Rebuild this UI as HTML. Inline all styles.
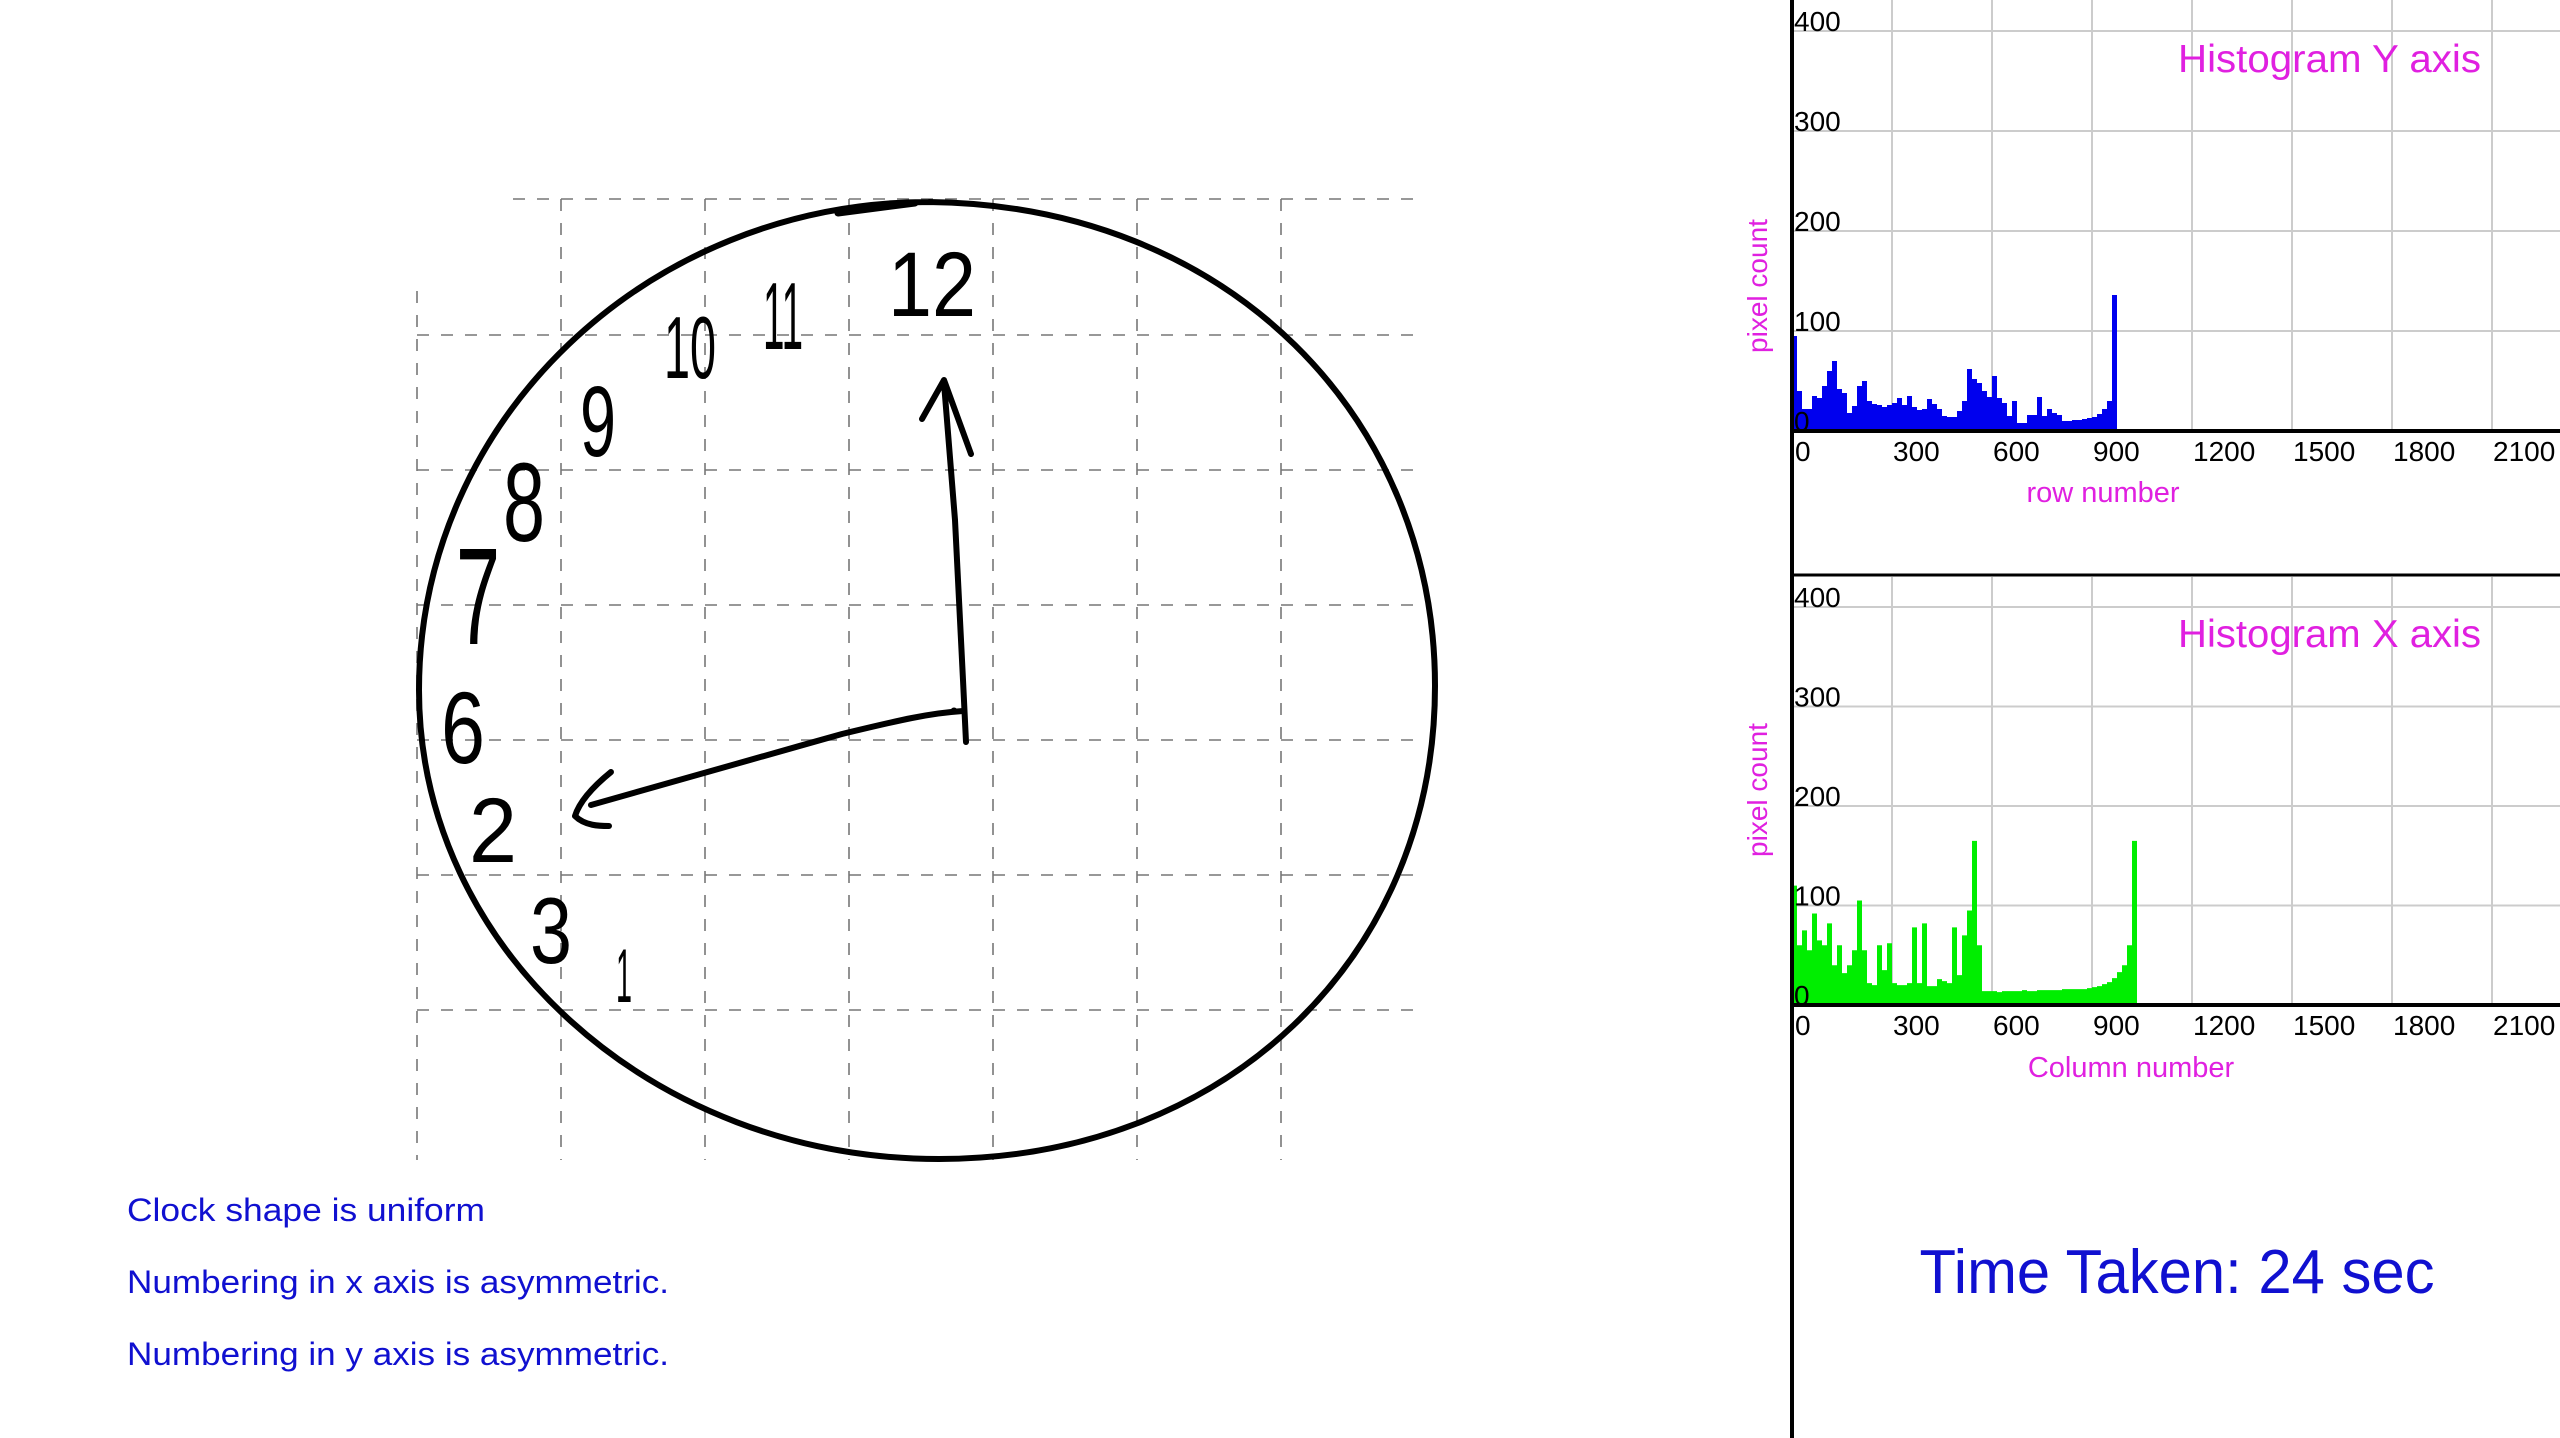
<!DOCTYPE html>
<html><head><meta charset="utf-8"><style>
html,body{margin:0;padding:0;background:#fff;}
svg{display:block;}
text{font-family:"Liberation Sans",sans-serif;}
</style></head><body>
<svg id="root" width="2560" height="1438" viewBox="0 0 2560 1438" xmlns="http://www.w3.org/2000/svg">
<rect width="2560" height="1438" fill="#fff"/>
<g id="clock-grid" stroke="#777" stroke-width="1.6" stroke-dasharray="12 12" fill="none"></g>
<g fill="none" stroke="#000" stroke-linecap="round" stroke-linejoin="round">
<path stroke-width="6" d="M929,202 C1230,205 1435,419 1435,686 C1435,960 1223,1159 939,1159 C652,1159 419,949 419,690 C419,420 647,202 929,202"/>
<path stroke-width="7" d="M838,213 L915,203"/>
<path stroke-width="6" d="M966,742 L963,680 L955,520 L944,383"/>
<path stroke-width="6" d="M922,419 L944,380 L971,454"/>
<path stroke-width="6" d="M963,711 C930,713 900,720 842,734 C760,757 680,780 591,805"/>
<path stroke-width="6" d="M611,772 C595,785 580,800 575,816 C585,826 600,826 609,826"/>
<circle cx="954" cy="711" r="3" fill="#000"/>
</g>
<g fill="#000" font-size="92" text-anchor="middle">
<text x="932" y="316" textLength="88" lengthAdjust="spacingAndGlyphs">12</text>
<text x="783" y="349" font-size="96" textLength="40" lengthAdjust="spacingAndGlyphs">11</text>
<text x="690" y="378" font-size="88" textLength="52" lengthAdjust="spacingAndGlyphs">10</text>
<text x="598" y="456" font-size="100" textLength="36" lengthAdjust="spacingAndGlyphs">9</text>
<text x="524" y="541" font-size="112" textLength="42" lengthAdjust="spacingAndGlyphs">8</text>
<text x="478" y="644" font-size="138" textLength="44" lengthAdjust="spacingAndGlyphs">7</text>
<text x="463" y="763" font-size="102" textLength="44" lengthAdjust="spacingAndGlyphs">6</text>
<text x="493" y="862" font-size="92" textLength="48" lengthAdjust="spacingAndGlyphs">2</text>
<text x="551" y="963" font-size="94" textLength="42" lengthAdjust="spacingAndGlyphs">3</text>
<text x="624" y="1002" font-size="76" textLength="16" lengthAdjust="spacingAndGlyphs">1</text>
</g>
<g fill="#1010d0" font-size="32">
<text x="127" y="1221" textLength="358" lengthAdjust="spacingAndGlyphs">Clock shape is uniform</text>
<text x="127" y="1293" textLength="542" lengthAdjust="spacingAndGlyphs">Numbering in x axis is asymmetric.</text>
<text x="127" y="1365" textLength="542" lengthAdjust="spacingAndGlyphs">Numbering in y axis is asymmetric.</text>
</g>
<g id="charts"></g>
<line x1="1792" y1="0" x2="1792" y2="1438" stroke="#000" stroke-width="4"/>
<line x1="1792" y1="575" x2="2560" y2="575" stroke="#000" stroke-width="3"/>
<text x="2177" y="1293" font-size="62" fill="#1010d0" text-anchor="middle" textLength="515" lengthAdjust="spacingAndGlyphs">Time Taken: 24 sec</text>
</svg>
<script>
const NS='http://www.w3.org/2000/svg';
const binWidth=15;
const rowCounts=[95,40,22,22,35,33,45,60,70,42,38,18,25,45,50,30,27,26,24,26,28,33,26,35,24,21,22,32,27,22,15,14,14,20,30,62,52,48,40,34,55,33,28,15,30,8,8,16,16,34,15,22,18,16,10,10,11,11,12,13,14,17,22,30,136];
const colCounts=[120,60,75,55,92,65,60,82,40,60,32,40,55,105,55,22,20,60,35,62,22,20,20,22,78,22,82,19,19,26,24,22,78,30,70,95,165,60,14,14,14,13,14,14,14,14,15,14,14,15,15,15,15,15,16,16,16,16,16,17,18,19,21,23,27,33,40,60,165];
const xTicks=[0,300,600,900,1200,1500,1800,2100];
const yTicks=[0,100,200,300,400];
const xTickUnit=[0,300,600,900,1200,1500,1800,2100];

function mk(tag,attrs,parent){const e=document.createElementNS(NS,tag);for(const k in attrs)e.setAttribute(k,attrs[k]);parent.appendChild(e);return e;}
const root=document.getElementById('charts');

const cg=document.getElementById('clock-grid');
const gx=[417,561,705,849,993,1137,1281];
const gy=[199,335,470,605,740,875,1010];
gx.forEach((x,i)=>{const l=mk('line',{x1:x,y1:i===0?291:199,x2:x,y2:1160},cg);

});
gy.forEach((y,i)=>{const l=mk('line',{x1:i===0?513:417,y1:y,x2:1418,y2:y},cg);

});

function drawChart(cfg){
  const g=mk('g',{},root);
  
  
  const x0=1792, base=cfg.base, ppy=cfg.ppy;
  const xs=u=>x0+u/3;
  const ys=v=>base-v*ppy;
  for(let i=1;i<8;i++){const l=mk('line',{x1:x0+i*100,y1:cfg.top,x2:x0+i*100,y2:base,stroke:'#cccccc','stroke-width':2},g);
    
    }
  yTicks.forEach(v=>{if(v===0)return;const l=mk('line',{x1:x0,y1:ys(v),x2:2560,y2:ys(v),stroke:'#cccccc','stroke-width':2},g);
    
    });
  let d='M'+xs(0)+','+base;
  cfg.data.forEach((v,i)=>{d+=' L'+xs(i*binWidth)+','+ys(v)+' L'+xs((i+1)*binWidth)+','+ys(v);});
  d+=' L'+xs(cfg.data.length*binWidth)+','+base+' Z';
  const p=mk('path',{d:d,fill:cfg.color},g);
  
  
  const ax=mk('line',{x1:x0,y1:base,x2:2560,y2:base,stroke:'#000','stroke-width':4},g);
  
  
  yTicks.forEach(v=>{const t=mk('text',{x:x0+2,y:ys(v),'font-size':28,fill:'#000'},g);t.textContent=String(v);
    
    });
  xTicks.forEach((v,i)=>{const t=mk('text',{x:xs(xTickUnit[i])+(i===0?3:1),y:base+30,'font-size':28,fill:'#000'},g);t.textContent=String(v);
    
    });
  const tt=mk('text',{x:2178,y:cfg.titleY,'font-size':39,fill:'#e020e0',textLength:303,lengthAdjust:'spacingAndGlyphs'},g);tt.textContent=cfg.title;
  
  
  const xl=mk('text',{x:cfg.xlX,y:cfg.xlY,'font-size':29,fill:'#e020e0','text-anchor':'middle'},g);xl.textContent=cfg.xlabel;
  
  
  const yl=mk('text',{x:0,y:0,'font-size':28,fill:'#e020e0','text-anchor':'middle',transform:'translate(1767,'+cfg.ylY+') rotate(-90)'},g);yl.textContent='pixel count';
  
  
}
drawChart({name:'histogram-y-axis-chart',seriesName:'row-histogram',data:rowCounts,color:'#0000ee',base:431,ppy:1,top:0,title:'Histogram Y axis',titleY:72,xlabel:'row number',xlX:2103,xlY:502,ylY:286});
drawChart({name:'histogram-x-axis-chart',seriesName:'column-histogram',data:colCounts,color:'#00ee00',base:1005,ppy:0.995,top:577,title:'Histogram X axis',titleY:647,xlabel:'Column number',xlX:2131,xlY:1077,ylY:790});
</script>
</body></html>
